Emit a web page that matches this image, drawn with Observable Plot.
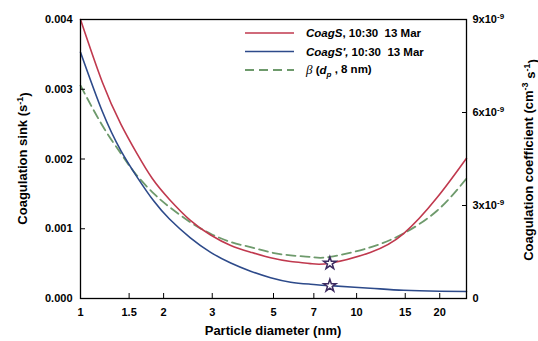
<!DOCTYPE html>
<html><head><meta charset="utf-8">
<script src="https://cdn.jsdelivr.net/npm/d3@7"></script>
<script src="https://cdn.jsdelivr.net/npm/@observablehq/plot@0.6"></script>
<style>
body{margin:0;background:#fff}
#chart svg{display:block}
</style>
</head><body><div id="chart"></div>
<script>
// ---- data ----
// CoagS, 10:30 13 Mar (s^-1)
const coagSDiameter  = [1, 1.2, 1.4, 1.6, 1.82, 2.1, 2.5, 2.96, 3.5, 4.13, 4.88, 5.77, 6.81, 8, 11.2, 14.8, 19.6, 25];
const coagSValue     = [0.00400, 0.00310, 0.00250, 0.00208, 0.00172, 0.00142, 0.00112, 0.00091, 0.00076, 0.000664, 0.000583, 0.00053, 0.000500, 0.000505, 0.00066, 0.00093, 0.00145, 0.00201];
// CoagS', 10:30 13 Mar (s^-1)
const coagSPDiameter = [1, 1.2, 1.4, 1.61, 1.84, 2.1, 2.5, 2.96, 3.5, 4.13, 4.88, 5.77, 6.81, 8, 11.2, 14.8, 20, 25];
const coagSPValue    = [0.00353, 0.00268, 0.00212, 0.00173, 0.00140, 0.00114, 0.00087, 0.000662, 0.000508, 0.000391, 0.000297, 0.000234, 0.000205, 0.000184, 0.000148, 0.000118, 0.000104, 0.000100];
// beta(dp, 8 nm), in 1e-9 cm^3 s^-1
const betaDiameter   = [1, 1.2, 1.4, 1.58, 1.84, 2.1, 2.5, 2.96, 3.5, 4.13, 4.88, 5.77, 6.81, 8, 11.2, 14.8, 19.6, 25];
const betaValue      = [6.87, 5.58, 4.68, 4.03, 3.39, 2.95, 2.46, 2.09, 1.82, 1.655, 1.49, 1.39, 1.34, 1.34, 1.65, 2.10, 2.84, 3.87];
// star markers at 8 nm
const markerDiameter = [8, 8];
const markerValue    = [0.000505, 0.000184];
// axes
const xTicks     = [1, 1.5, 2, 3, 5, 7, 10, 15, 20];
const leftTicks  = [0, 0.001, 0.002, 0.003, 0.004];
const rightTicks = [0, 3, 6, 9];
const legendKeys = ["coagS", "coagSPrime", "beta"];

const colors = {coagS: "#c0394e", coagSPrime: "#2d4a8a", beta: "#6e9a6c", star: "#3d2b60"};
const yMax = 0.004, rMax = 9;
const toLeft = b => b * yMax / rMax;

const redRows   = coagSDiameter.map((d, i) => ({d, v: coagSValue[i]}));
const blueRows  = coagSPDiameter.map((d, i) => ({d, v: coagSPValue[i]}));
const greenRows = betaDiameter.map((d, i) => ({d, v: toLeft(betaValue[i])}));
const markers   = markerDiameter.map((d, i) => ({d, v: markerValue[i]}));

const chart = Plot.plot({
  width: 538, height: 341,
  marginLeft: 80, marginRight: 72, marginTop: 19, marginBottom: 43,
  style: {fontFamily: "'Liberation Sans', Arial, sans-serif", fontSize: "11px", fontWeight: "bold", color: "#000", background: "#fff"},
  x: {type: "log", domain: [1, 25]},
  y: {domain: [0, yMax]},
  marks: [
    Plot.line(greenRows, {x: "d", y: "v", stroke: colors.beta, strokeWidth: 1.8, strokeDasharray: "9,5", curve: "natural"}),
    Plot.line(redRows, {x: "d", y: "v", stroke: colors.coagS, strokeWidth: 1.6, curve: "natural"}),
    Plot.line(blueRows, {x: "d", y: "v", stroke: colors.coagSPrime, strokeWidth: 1.6, curve: "natural"}),
    Plot.dot(markers, {x: "d", y: "v", symbol: "star", r: 3.9, stroke: colors.star, fill: "white", strokeWidth: 1.5}),
    Plot.axisX({ticks: xTicks, tickSize: 5, dy: -5, tickFormat: () => "", label: null}),
    Plot.axisX({ticks: xTicks, tickSize: 0, tickPadding: 10, tickFormat: d => String(d), label: null}),
    Plot.axisY({ticks: leftTicks, tickSize: 5, dx: 5, tickFormat: () => "", label: null}),
    Plot.axisY({ticks: leftTicks, tickSize: 0, tickPadding: 8, tickFormat: d => d.toFixed(3), label: null}),
    Plot.axisY({anchor: "right", ticks: rightTicks.map(toLeft), tickSize: 5, dx: -5, tickFormat: () => "", label: null}),
    Plot.axisY({anchor: "right", ticks: rightTicks.map(toLeft), tickSize: 0, tickPadding: 6,
      tickFormat: v => { const r = Math.round(v * rMax / yMax); return r === 0 ? "0" : `${r}x10^-9`; }, label: null}),
    Plot.frame({stroke: "#000", strokeWidth: 1.3})
  ]
});
document.getElementById("chart").appendChild(chart);

const svg = d3.select(chart);
// superscripts in tick labels
svg.selectAll("text").each(function() {
  const t = this.textContent;
  if (t.includes("^")) {
    const [base, exp] = t.split("^");
    const el = d3.select(this);
    el.text(base);
    el.append("tspan").attr("dy", "-0.45em").attr("font-size", "8px").text(exp);
  }
});

const font = "'Liberation Sans', Arial, sans-serif";
// axis titles
const lt = svg.append("text").attr("transform", "translate(27,158.5) rotate(-90)")
  .attr("text-anchor", "middle").attr("font-family", font).attr("font-size", "13px").attr("font-weight", "bold");
lt.append("tspan").text("Coagulation sink (s");
lt.append("tspan").attr("dy", "-0.5em").attr("font-size", "9px").text("-1");
lt.append("tspan").attr("dy", "0.5em").text(")");

const rt = svg.append("text").attr("transform", "translate(532.5,160) rotate(-90)")
  .attr("text-anchor", "middle").attr("font-family", font).attr("font-size", "13px").attr("font-weight", "bold");
rt.append("tspan").text("Coagulation coefficient (cm");
rt.append("tspan").attr("dy", "-0.5em").attr("font-size", "9px").text("-3");
rt.append("tspan").attr("dy", "0.5em").text(" s");
rt.append("tspan").attr("dy", "-0.5em").attr("font-size", "9px").text("-1");
rt.append("tspan").attr("dy", "0.5em").text(")");

svg.append("text").attr("x", 273).attr("y", 335).attr("text-anchor", "middle")
  .attr("font-family", font).attr("font-size", "13px").attr("font-weight", "bold").text("Particle diameter (nm)");

// legend
const lg = svg.append("g").attr("font-family", font).attr("font-size", "11.5px").attr("font-weight", "bold")
  .attr("text-anchor", "start").style("white-space", "pre");
legendKeys.forEach((k, i) => {
  const y = 33 + i * 18.5;
  lg.append("line").attr("x1", 245).attr("x2", 294).attr("y1", y).attr("y2", y)
    .attr("stroke", colors[k]).attr("stroke-width", k === "beta" ? 1.8 : 1.6)
    .attr("stroke-dasharray", k === "beta" ? "9,5" : null);
  const t = lg.append("text").attr("x", 306).attr("y", y + 4).attr("text-anchor", "start");
  if (k === "coagS") {
    t.append("tspan").attr("font-style", "italic").text("CoagS");
    t.append("tspan").text(", 10:30  13 Mar");
  } else if (k === "coagSPrime") {
    t.append("tspan").attr("font-style", "italic").text("CoagS\u2032, ");
    t.append("tspan").text("10:30  13 Mar");
  } else {
    t.append("tspan").attr("font-style", "italic").attr("font-weight", "normal").attr("font-family", "'Liberation Serif', serif").attr("font-size", "13px").text("\u03B2");
    t.append("tspan").text(" (");
    t.append("tspan").attr("font-style", "italic").text("d");
    t.append("tspan").attr("font-style", "italic").attr("font-size", "8px").attr("dy", "0.35em").text("p");
    t.append("tspan").attr("dy", "-0.3em").text(" , 8 nm)");
  }
});
</script>
</body></html>
